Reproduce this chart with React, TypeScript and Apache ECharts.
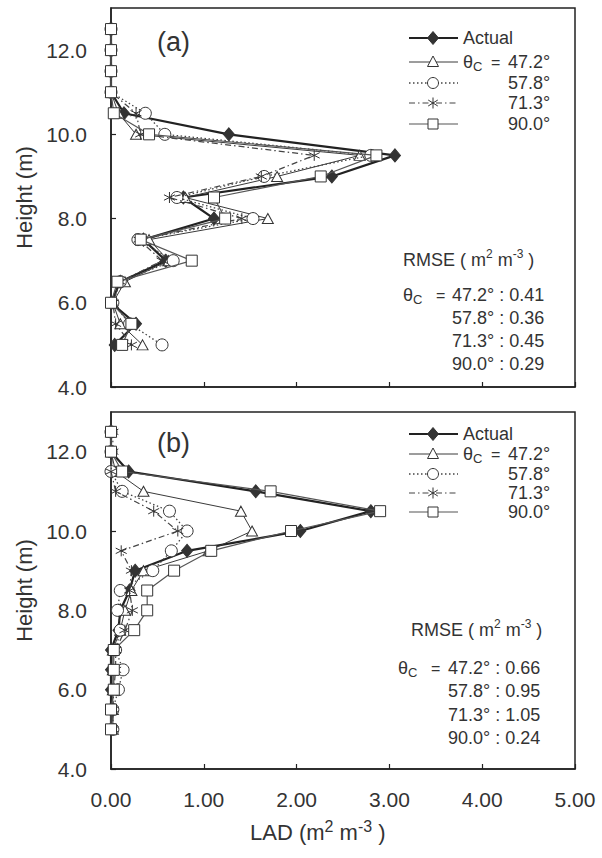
import React, { useEffect, useRef } from "react";
import * as echarts from "echarts";

// ---------- data ----------
const heights = [12.5, 12, 11.5, 11, 10.5, 10, 9.5, 9, 8.5, 8, 7.5, 7, 6.5, 6, 5.5, 5];

// panel (a)
const aActual = [0, 0, 0, 0, 0.14, 1.27, 3.06, 2.38, 0.78, 1.11, 0.35, 0.59, 0.1, 0, 0.27, 0.04];
const aT472 = [0, 0, 0, 0, 0.08, 0.27, 2.68, 1.79, 0.8, 1.69, 0.41, 0.62, 0.15, 0.02, 0.1, 0.34];
const aC578 = [0, 0, 0, 0, 0.37, 0.58, 2.8, 1.65, 0.71, 1.53, 0.29, 0.67, 0.1, 0.02, 0.2, 0.55];
const aS713 = [0, 0, 0, 0, 0.27, 0.32, 2.19, 1.62, 0.63, 1.41, 0.3, 0.55, 0.1, 0.02, 0.05, 0.22];
const aQ900 = [0, 0, 0, 0, 0.03, 0.41, 2.86, 2.26, 1.11, 1.23, 0.32, 0.87, 0.07, 0, 0.22, 0.12];

// panel (b)
const bActual = [0, 0, 0.19, 1.56, 2.8, 2.04, 0.82, 0.26, 0.2, 0.1, 0.08, 0, 0, 0, 0, 0];
const bT472 = [0, 0, 0.05, 0.35, 1.4, 1.52, 1.05, 0.35, 0.22, 0.15, 0.1, 0.02, 0.02, 0.02, 0.02, 0.02];
const bC578 = [0, 0, 0, 0.12, 0.63, 0.82, 0.65, 0.45, 0.1, 0.07, 0.1, 0.05, 0.13, 0.08, 0.02, 0.02];
const bS713 = [0.02, 0.02, 0, 0.05, 0.46, 0.72, 0.11, 0.22, 0.2, 0.23, 0.15, 0.05, 0.05, 0.03, 0.02, 0.02];
const bQ900 = [0, 0, 0.12, 1.72, 2.9, 1.94, 1.08, 0.68, 0.39, 0.39, 0.25, 0.03, 0.03, 0.03, 0, 0];

const seriesNames = ["Actual", "47.2°", "57.8°", "71.3°", "90.0°"];
const rmseA = ["0.41", "0.36", "0.45", "0.29"];
const rmseB = ["0.66", "0.95", "1.05", "0.24"];

// ---------- styles ----------
const FONT = '"Liberation Sans", Arial, Helvetica, sans-serif';
const TXT = "#333";
const STAR = "path://M5,0L5,10M0.7,2.5L9.3,7.5M0.7,7.5L9.3,2.5";

const kinds = ["diamond", "triangle", "circle", "star", "square"];
const lineStyles: any[] = [
  { color: "#222", width: 2.2, type: "solid" },
  { color: "#3a3a3a", width: 1, type: "solid" },
  { color: "#444", width: 1.3, type: [1.5, 2.5] },
  { color: "#444", width: 1.2, type: [6, 3, 1.5, 3] },
  { color: "#555", width: 1.2, type: "solid" },
];
const symStyles: any[] = [
  { symbol: "diamond", symbolSize: [11, 13], itemStyle: { color: "#333", borderColor: "#333", borderWidth: 1 } },
  { symbol: "triangle", symbolSize: [11, 10], itemStyle: { color: "#fff", borderColor: "#333", borderWidth: 1 } },
  { symbol: "circle", symbolSize: 12, itemStyle: { color: "#fff", borderColor: "#333", borderWidth: 1 } },
  { symbol: STAR, symbolSize: 11, itemStyle: { color: "rgba(0,0,0,0)", borderColor: "#333", borderWidth: 1 } },
  { symbol: "rect", symbolSize: 11, itemStyle: { color: "#fff", borderColor: "#333", borderWidth: 1 } },
];

function makeSeries(panel: number, arrays: number[][]) {
  return arrays.map((arr, i) => ({
    type: "line",
    name: seriesNames[i],
    xAxisIndex: panel,
    yAxisIndex: panel,
    data: arr.map((v, k) => [v, heights[k]]),
    ...symStyles[i],
    lineStyle: lineStyles[i],
    z: 2 + i,
    clip: false,
  }));
}

function marker(kind: string, cx: number, cy: number): any {
  const st = { fill: "#fff", stroke: "#333", lineWidth: 1 };
  switch (kind) {
    case "diamond":
      return { type: "polygon", shape: { points: [[cx, cy - 6.5], [cx + 5.5, cy], [cx, cy + 6.5], [cx - 5.5, cy]] }, style: { fill: "#333", stroke: "#333" }, z: 10 };
    case "triangle":
      return { type: "polygon", shape: { points: [[cx, cy - 6], [cx + 5.5, cy + 4.5], [cx - 5.5, cy + 4.5]] }, style: st, z: 10 };
    case "circle":
      return { type: "circle", shape: { cx, cy, r: 5.5 }, style: st, z: 10 };
    case "star":
      return {
        type: "group",
        z: 10,
        children: [
          { type: "line", shape: { x1: cx, y1: cy - 5.5, x2: cx, y2: cy + 5.5 }, style: { stroke: "#333", lineWidth: 1 } },
          { type: "line", shape: { x1: cx - 4.8, y1: cy - 3, x2: cx + 4.8, y2: cy + 3 }, style: { stroke: "#333", lineWidth: 1 } },
          { type: "line", shape: { x1: cx - 4.8, y1: cy + 3, x2: cx + 4.8, y2: cy - 3 }, style: { stroke: "#333", lineWidth: 1 } },
        ],
      };
    default:
      return { type: "rect", shape: { x: cx - 5, y: cy - 5, width: 10, height: 10 }, style: st, z: 10 };
  }
}

function txt(text: string, x: number, y: number, size: number, extra: any = {}): any {
  return {
    type: "text",
    x,
    y,
    z: 10,
    style: { text, fontSize: size, fontFamily: FONT, fill: TXT, align: "left", verticalAlign: "middle", ...extra },
  };
}

function thetaC(x: number, y: number, size: number): any {
  return {
    type: "text",
    x,
    y,
    z: 10,
    style: {
      text: "{n|θ}{s|C}",
      verticalAlign: "middle",
      align: "left",
      rich: {
        n: { fontSize: size, fontFamily: FONT, fill: TXT, lineHeight: size + 4 },
        s: { fontSize: size - 5, fontFamily: FONT, fill: TXT, verticalAlign: "bottom" },
      },
    },
  };
}

function legend(rows: number[]): any[] {
  const els: any[] = [];
  rows.forEach((y, i) => {
    const ls = lineStyles[i];
    els.push({
      type: "line",
      z: 9,
      shape: { x1: 409, y1: y, x2: 458, y2: y },
      style: { stroke: ls.color, lineWidth: ls.width, lineDash: Array.isArray(ls.type) ? ls.type : null },
    });
    els.push(marker(kinds[i], 433, y));
    if (i === 0) {
      els.push(txt(seriesNames[0], 463, y, 18));
    } else {
      if (i === 1) {
        els.push(thetaC(463, y, 18));
        els.push(txt("=", 491, y, 16));
      }
      els.push(txt(seriesNames[i], 508, y, 18));
    }
  });
  return els;
}

function unitText(prefix: string, x: number, y: number, size: number): any {
  return {
    type: "text",
    x,
    y,
    z: 10,
    style: {
      text: `{n|${prefix}m}{s|2}{n| m}{s|-3}{n| )}`,
      align: "left",
      verticalAlign: "middle",
      rich: {
        n: { fontSize: size, fontFamily: FONT, fill: TXT, lineHeight: size + 6 },
        s: { fontSize: size - 6, fontFamily: FONT, fill: TXT, verticalAlign: "top" },
      },
    },
  };
}

function rmseBlock(x0: number, yHead: number, thX: number, eqX: number, valX: number, rows: number[], vals: string[]): any[] {
  const els: any[] = [];
  els.push(unitText("RMSE ( ", x0, yHead, 18));
  els.push(thetaC(thX, rows[0], 18));
  els.push(txt("=", eqX, rows[0], 16));
  rows.forEach((y, i) => {
    els.push(txt(`${seriesNames[i + 1]} : ${vals[i]}`, valX, y, 18));
  });
  return els;
}

const axisCommon = {
  type: "value",
  axisLine: { show: true, lineStyle: { color: "#222", width: 1.5 } },
  axisTick: { show: true, inside: true, length: 5, lineStyle: { color: "#222", width: 1.2 } },
  splitLine: { show: false },
};

export default function App() {
  const ref = useRef<HTMLDivElement>(null);
  useEffect(() => {
    if (!ref.current) return;
    const chart = echarts.init(ref.current, null, { renderer: "svg" });
    const yLabel = {
      show: true,
      formatter: (v: number) => v.toFixed(1),
      fontSize: 21,
      fontFamily: FONT,
      color: TXT,
      margin: 24,
      showMaxLabel: false,
    };
    const yName = {
      name: "Height (m)",
      nameLocation: "middle",
      nameGap: 76,
      nameRotate: 90,
      nameTextStyle: { fontSize: 22, fontFamily: FONT, color: TXT },
    };
    const option: any = {
      animation: false,
      backgroundColor: "#fff",
      grid: [
        { left: 111, top: 8, width: 464, height: 379, show: true, borderColor: "#222", borderWidth: 1.5, backgroundColor: "transparent" },
        { left: 111, top: 412, width: 464, height: 357, show: true, borderColor: "#222", borderWidth: 1.5, backgroundColor: "transparent" },
      ],
      xAxis: [
        { ...axisCommon, gridIndex: 0, min: 0, max: 5, interval: 1, axisLabel: { show: false } },
        {
          ...axisCommon,
          gridIndex: 1,
          min: 0,
          max: 5,
          interval: 1,
          axisLabel: { show: true, formatter: (v: number) => v.toFixed(2), fontSize: 21, fontFamily: FONT, color: TXT, margin: 20 },
        },
      ],
      yAxis: [
        { ...axisCommon, gridIndex: 0, min: 4, max: 13, interval: 2, axisLabel: yLabel, ...yName },
        { ...axisCommon, gridIndex: 1, min: 4, max: 13, interval: 2, axisLabel: yLabel, ...yName },
      ],
      series: [
        ...makeSeries(0, [aActual, aT472, aC578, aS713, aQ900]),
        ...makeSeries(1, [bActual, bT472, bC578, bS713, bQ900]),
      ],
      graphic: [
        txt("(a)", 157, 42, 27),
        txt("(b)", 157, 443, 27),
        ...legend([38, 62, 83, 103, 124]),
        ...legend([434, 454, 474, 493, 512]),
        ...rmseBlock(403, 260, 403, 436, 452, [295, 318, 341, 364], rmseA),
        ...rmseBlock(411, 630, 398, 431, 448, [668, 691, 715, 738], rmseB),
        unitText("LAD (", 250, 832, 22),
      ],
    };
    chart.setOption(option);
    return () => chart.dispose();
  }, []);
  return <div ref={ref} style={{ position: "fixed", left: 0, top: 0, width: 602, height: 858 }} />;
}
